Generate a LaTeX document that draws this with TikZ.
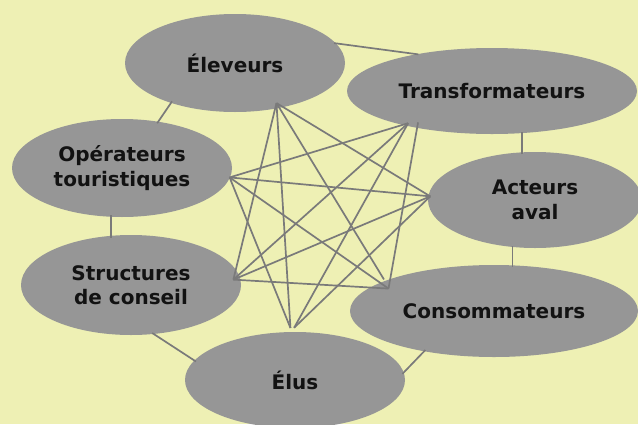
\documentclass[tikz,border=0pt]{standalone}
\usepackage{fontspec}
\setmainfont{DejaVu Sans}
\usetikzlibrary{shapes.geometric,calc}
\definecolor{bgc}{RGB}{238,240,180}
\definecolor{ellc}{RGB}{150,150,150}
\definecolor{linec}{RGB}{122,122,122}
\definecolor{txtc}{RGB}{18,18,18}
\begin{document}
\begin{tikzpicture}[x=1pt,y=-1pt,
  actor/.style={ellipse, fill=ellc, draw=none, inner sep=0pt, align=center,
    font=\fontsize{20}{24.5}\selectfont\bfseries, text=txtc},
  link/.style={draw=linec, line width=1.7pt},
  ring/.style={link, shorten <=-2pt, shorten >=-2pt}]
\fill[bgc] (0,0) rectangle (638,424);
\useasboundingbox (0,0) rectangle (638,424);
\clip (0,0) rectangle (638,424);
\node[actor, minimum width=220pt, minimum height=98pt] (E) at (235,63) {Éleveurs};
\node[actor, minimum width=290pt, minimum height=86pt] (T) at (492,91) {Transformateurs};
\node[actor, minimum width=220pt, minimum height=98pt] (O) at (122,168) {Opérateurs\\touristiques};
\node[actor, minimum width=214pt, minimum height=96pt] (A) at (535,200) {Acteurs\\aval};
\node[actor, minimum width=220pt, minimum height=100pt] (S) at (131,285) {Structures\\de conseil};
\node[actor, minimum width=288pt, minimum height=92pt] (C) at (494,311) {Consommateurs};
\node[actor, minimum width=220pt, minimum height=96pt] (U) at (295,380) {Élus};
% meeting points of the central links
\coordinate (e)  at ($(E.center)!0.897!(E.-44.3)$);
\coordinate (t1) at ($(T.center)!0.943!(T.-159.1)$);
\coordinate (t2) at ($(T.center)!0.887!(T.-157.5)$);
\coordinate (o)  at ($(O.center)!0.995!(O.-5.3)$);
\coordinate (a)  at ($(A.center)!0.98!(A.178.4)$);
\coordinate (s)  at ($(S.center)!0.935!(S.3.4)$);
\coordinate (c1) at ($(C.center)!0.878!(C.168.3)$);
\coordinate (c2) at ($(C.center)!1.024!(C.164.4)$);
\coordinate (u1) at ($(U.center)!1.08!(U.95.5)$);
\coordinate (u2) at ($(U.center)!1.083!(U.91)$);
% ring
\draw[ring] (E.11.6) -- (T.154.9);
\draw[ring] (E.-148.5) -- (O.52);
\draw[ring] (A.105.8) -- (A.105.8 |- T.south);
\draw[ring] (C.68) -- (C.68 |- A.south);
\draw[ring] (S.112) -- (S.112 |- O.south);
\draw[ring] (S.-65.6) -- (U.169.1);
\draw[ring] (C.-150.9) -- (U.4.5);
% star
\draw[link] (e) -- (a);
\draw[link] (e) -- (c2);
\draw[link] (e) -- (u1);
\draw[link] (e) -- (s);
\draw[link] (t2) -- (c1);
\draw[link] (t1) -- (u2);
\draw[link] (t1) -- (s);
\draw[link] (t1) -- (o);
\draw[link] (a) -- (u2);
\draw[link] (a) -- (s);
\draw[link] (a) -- (o);
\draw[link] (c1) -- (s);
\draw[link] (c1) -- (o);
\draw[link] (u1) -- (o);
\end{tikzpicture}
\end{document}
